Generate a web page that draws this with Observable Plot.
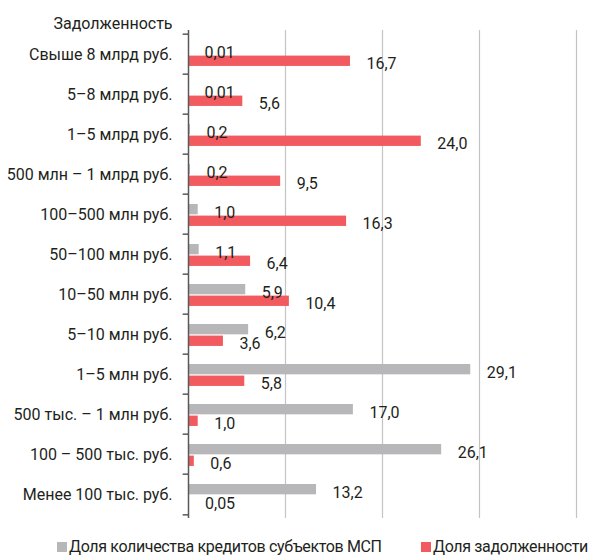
<!DOCTYPE html>
<html>
<head>
<meta charset="utf-8">
<script src="https://cdn.jsdelivr.net/npm/d3@7"></script>
<script src="https://cdn.jsdelivr.net/npm/@observablehq/plot@0.6"></script>
<style>
  body { margin: 0; background: #fff; font-family: Roboto, sans-serif; color: #231f20; }
  #legend { position: relative; width: 590px; height: 25px; font-size: 16px; letter-spacing: -0.35px; }
  #legend .item { position: absolute; top: 7px; display: flex; align-items: center; white-space: nowrap; line-height: 20px; }
  #legend .sw { width: 10px; height: 10px; margin-right: 2px; }
</style>
</head>
<body>
<div id="chart"></div>
<div id="legend"></div>
<script>
// Debt size brackets, top to bottom
const categories = [
  "Свыше 8 млрд руб.",
  "5–8 млрд руб.",
  "1–5 млрд руб.",
  "500 млн – 1 млрд руб.",
  "100–500 млн руб.",
  "50–100 млн руб.",
  "10–50 млн руб.",
  "5–10 млн руб.",
  "1–5 млн руб.",
  "500 тыс. – 1 млн руб.",
  "100 – 500 тыс. руб.",
  "Менее 100 тыс. руб."
];
// Share of the number of SME loans, %
const loanCountShare = [0.01, 0.01, 0.2, 0.2, 1.0, 1.1, 5.9, 6.2, 29.1, 17.0, 26.1, 13.2];
// Share of total debt, %
const debtShare = [16.7, 5.6, 24.0, 9.5, 16.3, 6.4, 10.4, 3.6, 5.8, 1.0, 0.6, 0.05];

const seriesNames = ["Доля количества кредитов субъектов МСП", "Доля задолженности"];
const seriesColors = ["#b7b7b9", "#f15b5f"];
const gridTicks = [10, 20, 30, 40];
const axisTitle = "Задолженность";

const rows = categories.map((cat, i) => ({cat, count: loanCountShare[i], debt: debtShare[i]}));

// Russian decimal comma; very small shares keep two decimals
const fmt = v => (v < 0.1 ? v.toFixed(2) : v.toFixed(1)).replace(".", ",");

const width = 590, height = 530;
const marginTop = 30, marginBottom = 12, marginLeft = 188, marginRight = 14;
const step = (height - marginTop - marginBottom) / categories.length;
const ink = "#231f20";

const chart = Plot.plot({
  width, height, marginTop, marginBottom, marginLeft, marginRight,
  style: {fontFamily: "Roboto, sans-serif", fontSize: "16px", color: ink, background: "#fff"},
  x: {domain: [0, 40], axis: null},
  y: {domain: categories, padding: 0, axis: null},
  marks: [
    Plot.gridX(gridTicks, {stroke: "#c4c4c4", strokeOpacity: 1, strokeWidth: 1.2}),
    Plot.barX(rows, {x: "count", y: "cat", fill: seriesColors[0], insetTop: 10, insetBottom: step - 21}),
    Plot.barX(rows, {x: "debt", y: "cat", fill: seriesColors[1], insetTop: 21.6, insetBottom: step - 32.6}),
    Plot.text(rows, {x: "count", y: "cat", text: d => fmt(d.count), textAnchor: "start", dx: 16, dy: -2, fill: ink, fontSize: 16}),
    Plot.text(rows, {x: "debt", y: "cat", text: d => fmt(d.debt), textAnchor: "start", dx: 16, dy: 9, fill: ink, fontSize: 16}),
    Plot.ruleX([0], {stroke: "#595959", strokeWidth: 1.5}),
    // tick marks on the category boundaries
    Plot.ruleY(categories, {y: d => d, x1: -0.55, x2: 0, dy: -step / 2, stroke: "#595959", strokeWidth: 1.5}),
    Plot.ruleY(categories.slice(-1), {y: d => d, x1: -0.55, x2: 0, dy: step / 2, stroke: "#595959", strokeWidth: 1.5}),
    Plot.axisY({tickSize: 0, tickPadding: 16, fontSize: 16, label: null, color: ink}),
    Plot.text([axisTitle], {text: d => d, frameAnchor: "top-left", dx: -135, dy: -7, textAnchor: "start", lineAnchor: "middle", fill: ink, fontSize: 16})
  ]
});
document.getElementById("chart").appendChild(chart);

// Legend below the chart
const legend = document.getElementById("legend");
const legendX = [57, 421];
seriesNames.forEach((name, i) => {
  const item = document.createElement("div");
  item.className = "item";
  item.style.left = legendX[i] + "px";
  const sw = document.createElement("span");
  sw.className = "sw";
  sw.style.background = seriesColors[i];
  const label = document.createElement("span");
  label.textContent = name;
  item.append(sw, label);
  legend.appendChild(item);
});
</script>
</body>
</html>
